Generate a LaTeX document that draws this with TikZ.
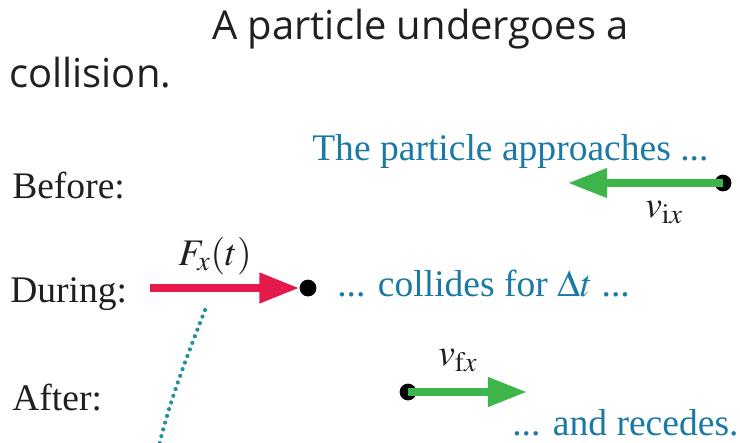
\documentclass[tikz,border=0pt]{standalone}
\usepackage{mathptmx}
\usepackage{fontspec}
\setmainfont{Liberation Serif}
\newfontfamily\titlefont{Open Sans}
\usetikzlibrary{arrows.meta,positioning,calc}
\definecolor{inkDark}{HTML}{231F20}
\definecolor{noteTeal}{HTML}{1A7AA3}
\definecolor{velGreen}{HTML}{3DB54A}
\definecolor{forceRed}{HTML}{E5194B}
\definecolor{dotTeal}{HTML}{23919F}

\begin{document}
\begin{tikzpicture}[
  x=0.025cm, y=-0.025cm,
  txt/.style={anchor=base west, inner sep=0pt, text=inkDark,
              font=\fontsize{26.7}{32}\selectfont},
  title/.style={anchor=base west, inner sep=0pt, text=inkDark,
                font=\titlefont\fontsize{28.4}{34}\selectfont},
  note/.style={txt, text=noteTeal},
  particle/.style={circle, fill=black, inner sep=0pt, minimum size=0.42cm},
  vel/.style={-{Triangle[length=0.98cm,width=0.7cm]}, line width=0.19cm,
              draw=velGreen},
  force/.style={-{Triangle[length=1cm,width=0.72cm]}, line width=0.2cm,
                draw=forceRed},
  path/.style={draw=dotTeal, line width=3pt, line cap=round,
               dash pattern=on 0pt off 5pt},
]
\useasboundingbox (0,0) rectangle (740,442);

% =============================== text ======================================
\node[title] at (212,39)  (title1)  {A particle undergoes a};
\node[title] at (9,87)    (title2)  {collision.};

\node[txt]   at (12,198)  (before)  {Before:};
\node[txt]   at (10,302)  (during)  {During:};
\node[txt]   at (12,410)  (after)   {After:};

\node[note]  at (312,160) (approach) {The particle approaches ...};
\node[note]  at (337,296) (collide)  {... collides for $\Delta t$ ...};
\node[note]  at (512,435) (recede)   {... and recedes.};

% =============================== particles =================================
\node[particle] at (723,183) (bdot) {};
\node[particle] at (308,288) (ddot) {};
\node[particle] at (408,392) (adot) {};

\coordinate (btip)  at (568,183);
\coordinate (dtail) at (150,288);
\coordinate (atip)  at (527,392);

% =============================== vectors ===================================
% before: velocity to the left
\draw[vel] (bdot.center) -- (btip);
\node[txt] at (645,217) (vix) {$v_{\mathrm{i}x}$};

% during: force pushing on the particle
\draw[force] (dtail) -- (ddot.west);
\node[txt] at (178,265) (fxt) {$F_x(t)$};

% after: velocity to the right
\draw[vel] (adot.center) -- (atip);
\node[txt] at (438,365) (vfx) {$v_{\mathrm{f}x}$};

% dotted trace running off the bottom edge
\coordinate (ctop) at (205,310);
\coordinate (cbot) at (159,446);
\draw[path] (ctop) .. controls (192,344) and (170,398) .. (cbot);

\end{tikzpicture}
\end{document}
